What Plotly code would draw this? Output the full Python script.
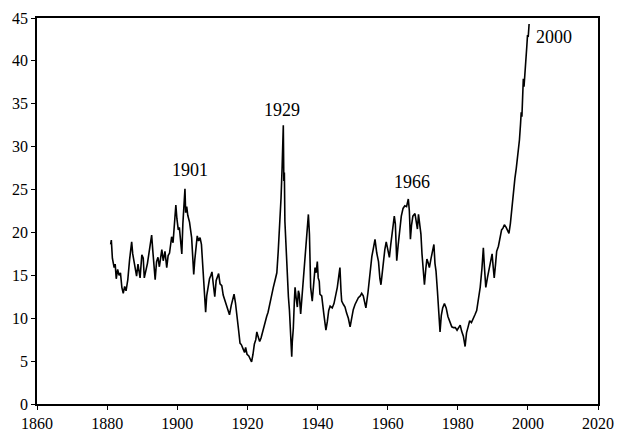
import plotly.graph_objects as go

years = [
    1881.0, 1881.2, 1881.5, 1882.0, 1882.3, 1882.6, 1883.0, 1883.4, 1883.8, 1884.2,
    1884.6, 1885.0, 1885.4, 1885.9, 1886.4, 1887.0, 1887.3, 1887.7, 1888.0, 1888.4,
    1888.8, 1889.1, 1889.4, 1889.9, 1890.3, 1890.6, 1891.1, 1891.5, 1891.9, 1892.3,
    1892.7, 1893.0, 1893.3, 1893.7, 1894.1, 1894.5, 1894.9, 1895.3, 1895.6, 1896.0,
    1896.5, 1897.0, 1897.4, 1897.8, 1898.1, 1898.4, 1898.8, 1899.1, 1899.4, 1899.6,
    1899.9, 1900.3, 1900.6, 1901.0, 1901.3, 1901.6, 1901.9, 1902.2, 1902.4, 1902.7,
    1903.0, 1903.5, 1904.1, 1904.4, 1904.7, 1905.0, 1905.4, 1905.7, 1906.1, 1906.5,
    1906.9, 1907.3, 1907.6, 1908.1, 1908.4, 1908.8, 1909.2, 1909.6, 1909.9, 1910.3,
    1910.7, 1911.1, 1911.5, 1911.8, 1912.2, 1912.7, 1913.1, 1913.5, 1913.9, 1914.4,
    1914.9, 1915.4, 1915.9, 1916.2, 1916.6, 1917.0, 1917.5, 1917.9, 1918.3, 1918.8,
    1919.2, 1919.5, 1919.9, 1920.4, 1920.8, 1921.2, 1921.6, 1922.0, 1922.4, 1922.7,
    1923.1, 1923.5, 1923.9, 1924.3, 1924.7, 1925.0, 1925.5, 1925.9, 1926.3, 1926.9,
    1927.4, 1928.0, 1928.4, 1928.8, 1929.2, 1929.6, 1929.9, 1930.1, 1930.25, 1930.4,
    1930.55, 1930.7, 1931.0, 1931.4, 1931.7, 1932.0, 1932.35, 1932.55, 1932.65, 1932.8,
    1933.1, 1933.4, 1933.6, 1933.9, 1934.25, 1934.55, 1934.8, 1935.2, 1935.6, 1935.95,
    1936.4, 1936.9, 1937.2, 1937.4, 1937.7, 1938.05, 1938.5, 1938.9, 1939.3, 1939.6,
    1939.95, 1940.2, 1940.5, 1940.7, 1941.2, 1941.8, 1942.4, 1942.8, 1943.2, 1943.6,
    1944.2, 1944.7, 1945.2, 1945.65, 1946.1, 1946.4, 1946.7, 1946.9, 1947.4, 1947.85,
    1948.3, 1948.8, 1949.3, 1949.7, 1950.2, 1950.7, 1951.2, 1951.65, 1952.2, 1952.6,
    1953.05, 1953.5, 1953.8, 1954.4, 1955.0, 1955.5, 1956.0, 1956.4, 1956.9, 1957.4,
    1957.8, 1958.1, 1958.5, 1958.8, 1959.2, 1959.6, 1960.0, 1960.5, 1960.9, 1961.4,
    1961.9, 1962.2, 1962.6, 1963.0, 1963.5, 1963.9, 1964.4, 1964.9, 1965.4, 1965.9,
    1966.2, 1966.5, 1966.8, 1967.2, 1967.8, 1968.2, 1968.5, 1968.8, 1969.1, 1969.5,
    1969.8, 1970.2, 1970.5, 1970.9, 1971.2, 1971.6, 1971.9, 1972.4, 1972.9, 1973.2,
    1973.5, 1973.8, 1974.2, 1974.5, 1974.95, 1975.3, 1975.7, 1976.2, 1976.7, 1977.2,
    1977.8, 1978.3, 1978.8, 1979.3, 1979.8, 1980.2, 1980.7, 1981.1, 1981.6, 1982.1,
    1982.5, 1982.9, 1983.4, 1983.9, 1984.4, 1984.9, 1985.4, 1985.9, 1986.4, 1986.9,
    1987.3, 1987.6, 1988.0, 1988.5, 1989.0, 1989.4, 1989.8, 1990.1, 1990.4, 1990.8,
    1991.1, 1991.6, 1992.0, 1992.5, 1992.9, 1993.3, 1993.8, 1994.2, 1994.6, 1995.0,
    1995.5, 1995.9, 1996.3, 1996.7, 1997.0, 1997.3, 1997.6, 1997.9, 1998.1, 1998.3,
    1998.5, 1998.7, 1998.9, 1999.2, 1999.5, 1999.7, 1999.9, 2000.1, 2000.35,
]

pe_ratio = [
    18.6, 19.1, 17.0, 15.9, 16.3, 14.6, 15.7, 15.0, 15.3, 13.6,
    12.9, 13.7, 13.2, 14.5, 16.8, 18.9, 17.5, 16.4, 15.5, 14.9,
    16.3, 15.6, 14.7, 17.4, 17.0, 14.7, 15.6, 16.4, 17.5, 18.6,
    19.7, 18.0, 16.8, 14.5, 16.6, 17.1, 16.0, 17.4, 18.0, 16.7,
    17.8, 15.9, 17.3, 17.6, 18.3, 19.5, 18.8, 20.5, 22.0, 23.2,
    21.6, 20.3, 20.6, 19.2, 17.5, 21.0, 23.4, 25.1, 22.3, 23.0,
    22.0, 21.2, 19.4, 17.0, 15.1, 16.8, 18.6, 19.6, 19.0, 19.4,
    18.6, 16.2, 13.2, 10.7, 12.6, 13.8, 14.6, 15.0, 15.4, 13.9,
    12.5, 14.4, 14.9, 15.2, 14.0, 13.8, 12.7, 12.2, 11.8, 11.2,
    10.4, 11.5, 12.3, 12.8, 11.8, 10.6, 8.6, 7.1, 6.9, 6.4,
    6.0, 6.6, 5.8, 5.6, 5.2, 4.9, 5.8, 7.0, 7.5, 8.4,
    7.8, 7.3, 7.7, 8.4, 8.9, 9.5, 10.2, 10.7, 11.6, 12.8,
    13.6, 14.6, 15.3, 17.8, 20.5, 24.0, 27.5, 29.5, 32.5, 26.0,
    27.0, 21.3, 18.0, 15.9, 12.5, 10.9, 8.2, 6.5, 5.5, 7.2,
    8.8, 12.0, 13.6, 12.4, 11.3, 13.2, 12.8, 10.5, 12.6, 14.7,
    17.2, 19.6, 21.0, 22.1, 19.8, 13.6, 12.0, 14.2, 15.9, 15.3,
    16.6, 14.7, 14.3, 12.8, 12.6, 10.5, 8.6, 9.6, 10.9, 11.4,
    11.2, 11.7, 12.6, 13.6, 15.0, 15.9, 13.2, 12.0, 11.6, 11.3,
    10.6, 10.0, 9.0, 10.0, 11.0, 11.6, 12.0, 12.4, 12.6, 12.9,
    12.6, 11.5, 11.2, 13.0, 15.6, 17.2, 18.3, 19.2, 17.6, 16.6,
    14.6, 13.9, 15.4, 16.8, 18.0, 18.9, 17.9, 17.1, 18.6, 20.6,
    21.9, 21.0, 16.7, 18.5, 20.8, 21.9, 22.8, 23.1, 23.0, 23.9,
    22.5, 19.2, 20.8, 21.9, 22.2, 21.2, 20.4, 22.1, 21.2, 19.8,
    17.5, 15.4, 13.9, 15.8, 16.9, 16.4, 15.9, 17.0, 18.0, 18.6,
    16.4, 15.5, 13.2, 11.5, 8.4, 10.3, 11.2, 11.7, 11.2, 10.2,
    9.4, 9.0, 8.9, 8.9, 8.6, 8.9, 9.2, 8.5, 7.9, 6.7,
    8.3, 8.9, 9.7, 9.5, 9.9, 10.4, 10.9, 12.3, 13.6, 15.8,
    18.2, 16.0, 13.6, 14.8, 15.9, 16.9, 17.5, 16.0, 14.7, 16.4,
    17.8, 18.4, 19.4, 20.3, 20.5, 20.9, 20.6, 20.2, 19.9, 21.0,
    23.2, 24.8, 26.3, 27.5, 28.4, 29.8, 30.8, 32.6, 34.0, 33.5,
    36.0, 37.9, 37.0, 39.4, 41.0, 41.7, 43.0, 42.8, 44.3,
]

label_text = ["1901", "1929", "1966", "2000"]
label_x = [1903.6, 1929.9, 1966.9, 2007.5]
label_y = [27.3, 34.3, 25.9, 42.8]

x_ticks = [1860, 1880, 1900, 1920, 1940, 1960, 1980, 2000, 2020]
y_ticks = [0, 5, 10, 15, 20, 25, 30, 35, 40, 45]

serif = "Liberation Serif, Times New Roman, serif"

fig = go.Figure()
fig.add_trace(go.Scatter(
    x=years, y=pe_ratio, mode="lines",
    line=dict(color="black", width=1.6),
    showlegend=False, hoverinfo="skip",
))

for t, xx, yy in zip(label_text, label_x, label_y):
    fig.add_annotation(
        x=xx, y=yy, text=t, showarrow=False,
        font=dict(family=serif, size=18, color="black"),
        xanchor="center", yanchor="middle",
    )

axis_font = dict(family=serif, size=16, color="black")
fig.update_xaxes(
    range=[1860, 2020], tickvals=x_ticks, ticktext=[str(v) for v in x_ticks],
    showgrid=False, zeroline=False, showline=True, linecolor="black", linewidth=1.5,
    mirror=True, ticks="outside", ticklen=4, tickcolor="black", tickwidth=1,
    tickfont=axis_font, automargin=False, ticklabeloverflow="allow",
)
fig.update_yaxes(
    range=[0, 45], tickvals=y_ticks, ticktext=[str(v) for v in y_ticks],
    showgrid=False, zeroline=False, showline=True, linecolor="black", linewidth=1.5,
    mirror=True, ticks="outside", ticklen=4, tickcolor="black", tickwidth=1,
    tickfont=axis_font, automargin=False, ticklabeloverflow="allow",
)
fig.update_layout(
    width=622, height=436,
    margin=dict(l=29, r=32, t=10, b=40),
    paper_bgcolor="white", plot_bgcolor="white",
    font=dict(family=serif, color="black"),
)
fig.write_html("out.html")
